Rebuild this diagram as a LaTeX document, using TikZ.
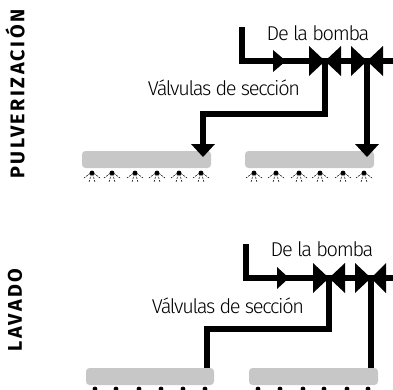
\documentclass[tikz,border=0pt]{standalone}
\usepackage{fontspec}
\setmainfont[LetterSpace=-6.5]{Fira Sans Light}
\newfontfamily\headfont[LetterSpace=12.5]{Fira Sans Bold}
\tikzset{
  pipe/.style={line width=5.5pt,black,line join=miter},
  bar/.style={draw=none,fill=black!22,rounded corners=3.5pt,minimum height=17pt,inner sep=0pt,outer sep=0pt},
  tri/.style={fill=black,draw=none},
  lbl/.style={inner sep=0pt,font=\fontsize{20}{22}\selectfont},
  head/.style={inner sep=0pt,rotate=90,font=\headfont\fontsize{19.8}{22}\selectfont},
  pics/nozzle/.style={code={
    \fill (0,1) circle (2.4pt);
    \foreach \a/\b in {-8/6,-3/10,3/10,8/6}
      \draw[line width=.55pt,dash pattern=on 1.8pt off 1.1pt] (\a*.25,\b*.25) -- (\a,\b);
  }},
}
\newcommand{\valve}[4]{% base x, tip x, y, half height
  \fill[tri] (#1,#3-#4) -- (#2,#3) -- (#1,#3+#4) -- cycle;}
\begin{document}
\begin{tikzpicture}[x=1pt,y=-1pt]
\useasboundingbox (0,0) rectangle (393,389);
\clip (0,0) rectangle (393,389);
% ---- top diagram
\node[bar,minimum width=129pt] (barA) at (146.5,159.5) {};
\node[bar,minimum width=129pt] (barB) at (309.5,159.5) {};
\coordinate (s1) at (242,27);
\coordinate (c1) at (242,61);
\coordinate (e1) at (393,61);
\coordinate (v1) at (325,61);
\coordinate (v2) at (367,61);
\coordinate (b1) at (325,114);
\coordinate (b2) at (203,114);
\coordinate (t1) at (203,146);
\coordinate (t2) at (367,146);
\draw[pipe] (s1) -- (c1) -- (e1);
\draw[pipe] (v1) -- (b1) -- (b2) -- (t1);
\draw[pipe] (v2) -- (t2);
\valve{273}{286}{61}{11}
\valve{309}{325}{61}{15}
\valve{341}{325}{61}{15}
\valve{351}{367}{61}{15}
\valve{383}{367}{61}{15}
\fill[tri] (191,144) -- (215,144) -- (203,157) -- cycle;
\fill[tri] (355,144) -- (379,144) -- (367,157) -- cycle;
\foreach \x in {92,112,135,157,179,201,254,276,299,320,343,364}
  \pic at (\x,172) {nozzle};
\node[lbl] (d1) at (318,33) {De la bomba};
\node[lbl] (d2) at (224,88) {Válvulas de sección};
\node[head] (h1) at (15,94) {PULVERIZACIÓN};
% ---- bottom diagram
\node[bar,minimum width=128pt] (barC) at (150,376.5) {};
\node[bar,minimum width=129pt] (barD) at (313.5,376.5) {};
\coordinate (s2) at (246,244);
\coordinate (c2) at (246,278);
\coordinate (e2) at (393,278);
\coordinate (v3) at (329,278);
\coordinate (v4) at (371,278);
\coordinate (b3) at (329,329);
\coordinate (b4) at (207,329);
\coordinate (t3) at (207,368);
\coordinate (t4) at (371,368);
\draw[pipe] (s2) -- (c2) -- (e2);
\draw[pipe] (v3) -- (b3) -- (b4) -- (t3);
\draw[pipe] (v4) -- (t4);
\valve{277}{289}{278}{11}
\valve{313}{329}{278}{15}
\valve{345}{329}{278}{15}
\valve{355}{371}{278}{15}
\valve{386}{371}{278}{15}
\foreach \x in {95,116,139,161,183,205,258,280,303,324,347,368}
  \fill (\x,389) circle (2.4pt);
\node[lbl] (d3) at (322,249) {De la bomba};
\node[lbl] (d4) at (228,306) {Válvulas de sección};
\node[head] (h2) at (15,310) {LAVADO};
\end{tikzpicture}
\end{document}
